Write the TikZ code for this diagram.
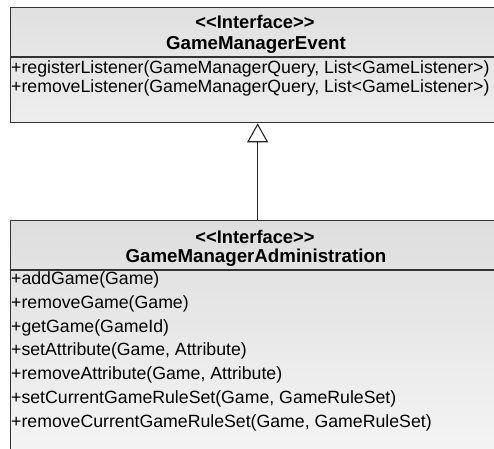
\documentclass[tikz,border=0pt]{standalone}
\usepackage{fontspec}
\setmainfont{Liberation Sans}[Ligatures=ResetAll]
\usetikzlibrary{arrows.meta}
\begin{document}
\begin{tikzpicture}[x=1pt,y=-1pt,
  classbox/.style={draw=black!80, line width=1.3pt, rectangle, inner sep=0pt,
    minimum width=490pt, anchor=north west, top color=black!12, bottom color=black!5},
  divider/.style={draw=black!80, line width=1.3pt},
  stereo/.style={font=\fontsize{18.3}{20}\selectfont\bfseries, inner sep=0pt},
  cname/.style={font=\fontsize{18.7}{20}\selectfont\bfseries, inner sep=0pt},
  member/.style={font=\fontsize{17.7}{20}\selectfont, inner sep=0pt, anchor=west},
  realize/.style={draw=black!85, line width=1.1pt, -{Triangle[open, length=19pt, width=21pt, line width=1.1pt]}}
]
\useasboundingbox (0,0) rectangle (494,448);

% GameManagerEvent interface
\node[classbox, minimum height=115pt, top color=black!12, bottom color=black!7] (evt) at (10,7) {};
\draw[divider] (10,57) -- (500,57);
\node[stereo] (evtst) at (255,22) {<\kern0pt<Interface>\kern0pt>};
\node[cname] (evtname) at (256,45) {GameManagerEvent};
\node[member] (m1) at (11,68.5) {+registerListener(GameManagerQuery, List<GameListener>)};
\node[member] (m2) at (11,88) {+removeListener(GameManagerQuery, List<GameListener>)};

% GameManagerAdministration interface
\node[classbox, minimum height=240pt, top color=black!13, bottom color=black!4] (adm) at (10,220) {};
\draw[divider] (10,270) -- (500,270);
\node[stereo] (admst) at (255,237) {<\kern0pt<Interface>\kern0pt>};
\node[cname] (admname) at (256,258) {GameManagerAdministration};
\node[member] (a1) at (11,280) {+addGame(Game)};
\node[member] (a2) at (11,303.8) {+removeGame(Game)};
\node[member] (a3) at (11,327.6) {+getGame(GameId)};
\node[member] (a4) at (11,351.4) {+setAttribute(Game, Attribute)};
\node[member] (a5) at (11,375.2) {+removeAttribute(Game, Attribute)};
\node[member] (a6) at (11,399) {+setCurrentGameRuleSet(Game, GameRuleSet)};
\node[member] (a7) at (11,422.8) {+removeCurrentGameRuleSet(Game, GameRuleSet)};

% realization arrow
\draw[realize] ([xshift=2pt]adm.north) -- ([xshift=2pt]evt.south);
\end{tikzpicture}
\end{document}
